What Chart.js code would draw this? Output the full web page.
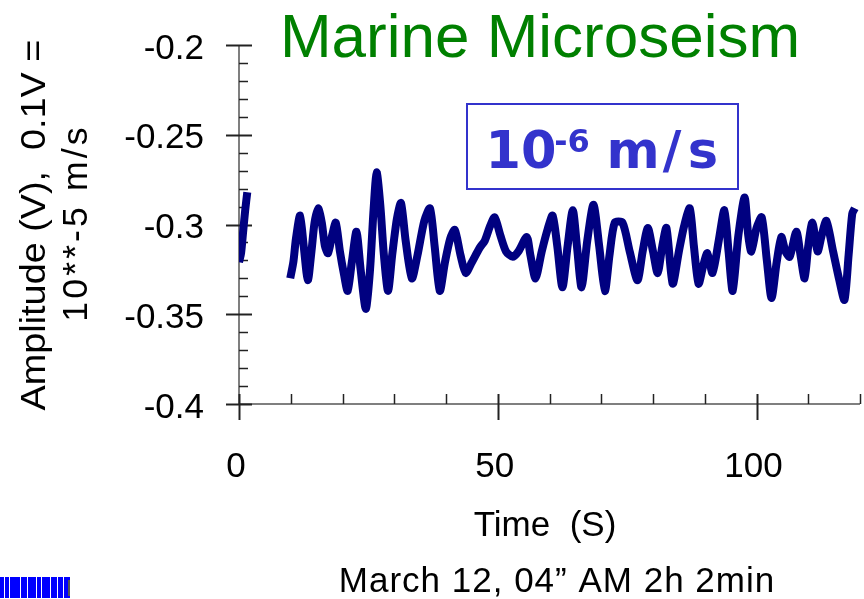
<!DOCTYPE html>
<html>
<head>
<meta charset="utf-8">
<title>Marine Microseism</title>
<script src="https://cdn.jsdelivr.net/npm/chart.js@4"></script>
<style>
html, body { margin: 0; padding: 0; background: #fff; }
#wrap { width: 864px; height: 599px; }
</style>
</head>
<body>
<div id="wrap"><canvas id="microseism-canvas" width="864" height="599"></canvas></div>
<script>
// trace: time (s) and amplitude (V); null = gap in the record
var timeSec = [0, 0.4, 0.8, 1.2, 1.6, 5,
  9.9, 10.5, 11.0, 11.8, 12.5, 13.3, 14.0, 14.6, 15.3, 16.0, 16.6, 17.2, 18.0, 18.7,
  19.5, 20.3, 21.0, 21.8, 22.7, 23.5, 24.5, 25.3, 26.0, 26.6, 27.3, 28.0, 28.8, 29.6,
  30.5, 31.3, 32.2, 33.4, 34.5, 35.8, 36.9, 37.8, 38.8, 39.8, 40.8, 41.7, 42.8, 43.8,
  45.0, 46.5, 47.5, 48.5, 49.4, 50.5, 51.6, 52.9, 54.0, 55.6, 56.3, 57.3, 58.5, 59.7,
  60.6, 61.5, 62.5, 63.5, 64.5, 65.3, 66.2, 67.3, 68.5, 69.6, 70.7, 71.6, 72.6, 74.1,
  75.5, 77.0, 78.0, 79.0, 80.0, 80.9, 81.8, 82.6, 83.8, 85.0, 86.0, 87.1, 87.9, 88.8,
  89.7, 90.5, 91.5, 92.7, 93.8, 94.6, 95.4, 96.5, 97.7, 98.4, 99.0, 100.0, 101.0, 102.0,
  102.9, 103.9, 104.8, 105.6, 106.4, 107.7, 108.5, 109.3, 110.0, 110.8, 111.8, 112.6, 113.5,
  114.8, 116.0, 117.0, 117.8, 118.5, 119.0];
var amplitudeV = [-0.321, -0.316, -0.304, -0.292, -0.282, null,
  -0.330, -0.321, -0.308, -0.295, -0.312, -0.331, -0.315, -0.299, -0.291, -0.299, -0.312, -0.316, -0.306, -0.299,
  -0.315, -0.328, -0.337, -0.321, -0.304, -0.325, -0.347, -0.326, -0.292, -0.271, -0.289, -0.317, -0.337, -0.317,
  -0.297, -0.288, -0.309, -0.330, -0.317, -0.298, -0.291, -0.312, -0.337, -0.321, -0.308, -0.303, -0.317, -0.327,
  -0.321, -0.313, -0.309, -0.301, -0.296, -0.306, -0.315, -0.318, -0.315, -0.307, -0.317, -0.330, -0.315, -0.302,
  -0.295, -0.312, -0.335, -0.312, -0.292, -0.312, -0.335, -0.309, -0.289, -0.312, -0.337, -0.317, -0.299, -0.299,
  -0.315, -0.331, -0.315, -0.302, -0.315, -0.327, -0.312, -0.302, -0.333, -0.315, -0.301, -0.291, -0.312, -0.333,
  -0.323, -0.316, -0.327, -0.309, -0.292, -0.315, -0.337, -0.306, -0.285, -0.306, -0.315, -0.302, -0.296, -0.320,
  -0.341, -0.321, -0.307, -0.315, -0.318, -0.304, -0.317, -0.330, -0.312, -0.299, -0.315, -0.306, -0.298,
  -0.315, -0.331, -0.342, -0.317, -0.294, -0.291];
var xTickLabels = { 0: '0', 50: '50', 100: '100' };
var yTickLabels = ['-0.4', '-0.35', '-0.3', '-0.25', '-0.2'];

var FONT = "'Liberation Sans', Arial, sans-serif";

var points = timeSec.map(function (t, i) { return { x: t, y: amplitudeV[i] }; });

// draws a string centred at (x, y), optionally rotated and stretched
function putText(c, txt, x, y, rot, sx, spacing) {
  c.save();
  c.translate(x, y);
  if (rot) c.rotate(rot);
  c.scale(sx || 1, 1);
  c.letterSpacing = (spacing || 0) + 'px';
  c.textAlign = 'center';
  c.fillText(txt, 0, 0);
  c.restore();
}

// axes, ticks and the loose text of the slide
var decor = {
  id: 'decor',
  beforeDatasetsDraw: function (chart) {
    var c = chart.ctx, a = chart.chartArea, xs = chart.scales.x, ys = chart.scales.y;
    c.save();
    c.strokeStyle = '#555';
    c.lineWidth = 1.5;
    c.beginPath();
    c.moveTo(a.left, a.top); c.lineTo(a.left, a.bottom);
    c.moveTo(a.left, a.bottom); c.lineTo(a.right, a.bottom);
    c.stroke();
    c.strokeStyle = '#222';
    var v, p;
    for (var k = 0; k <= 20; k++) {
      v = -0.4 + k * 0.01;
      p = Math.round(ys.getPixelForValue(v)) + 0.5;
      c.beginPath();
      if (k % 5 === 0) { c.lineWidth = 2; c.moveTo(a.left - 13, p); c.lineTo(a.left + 13, p); }
      else { c.lineWidth = 1.5; c.moveTo(a.left, p); c.lineTo(a.left + 9, p); }
      c.stroke();
    }
    for (var t = 0; t <= 120; t += 10) {
      p = Math.round(xs.getPixelForValue(t)) + 0.5;
      c.beginPath();
      if (t % 50 === 0) { c.lineWidth = 2; c.moveTo(p, a.bottom - 10); c.lineTo(p, a.bottom + 16); }
      else { c.lineWidth = 1.5; c.moveTo(p, a.bottom); c.lineTo(p, a.bottom - 10); }
      c.stroke();
    }
    c.restore();
  },
  afterDraw: function (chart) {
    var c = chart.ctx;
    c.save();
    c.textBaseline = 'alphabetic';
    // title
    c.fillStyle = '#008000';
    c.font = '62px ' + FONT;
    putText(c, 'Marine Microseism', 540, 57);

    // units box
    c.strokeStyle = '#3333cc';
    c.lineWidth = 2;
    c.strokeRect(467, 104, 271, 85);
    c.fillStyle = '#3333cc';
    c.font = "bold 51px 'DejaVu Sans', sans-serif";
    putText(c, '10', 521, 168);
    c.font = "bold 32px 'DejaVu Sans', sans-serif";
    putText(c, '-6', 572, 152);
    c.font = "bold 51px 'DejaVu Sans', sans-serif";
    putText(c, 'm', 633, 168);
    putText(c, '/', 672, 168);
    putText(c, 's', 703, 168);

    // axis titles
    c.fillStyle = '#000';
    c.font = '35px ' + FONT;
    putText(c, 'Time  (S)', 545, 536);
    putText(c, 'March 12, 04\u201d AM 2h 2min', 557, 592, 0, 1, 1);
    putText(c, 'Amplitude (V),  0.1V =', 45, 225, -Math.PI / 2, 1.08);
    putText(c, '10**-5 m/s', 87, 223, -Math.PI / 2, 1.02, 3);

    // little blue strip in the corner
    c.fillStyle = '#0000ff';
    c.fillRect(0, 577, 70, 21);
    c.fillStyle = '#fff';
    [4, 9, 20, 27, 36, 41, 50, 57, 63].forEach(function (x) { c.fillRect(x, 577, 1, 21); });
    c.fillStyle = '#555';
    c.fillRect(68, 580, 2, 16);
    c.restore();
  }
};

// no extra room for tick labels: the plot box is fixed by the layout padding
function noLabelPadding(s) {
  s.paddingLeft = 0; s.paddingRight = 0; s.paddingTop = 0; s.paddingBottom = 0;
}

var ctx = document.getElementById('microseism-canvas').getContext('2d');
var chart_microseism = new Chart(ctx, {
  type: 'line',
  data: {
    datasets: [{
      data: points,
      borderColor: '#000080',
      backgroundColor: '#000080',
      borderWidth: 8,
      borderJoinStyle: 'round',
      pointRadius: 0,
      tension: 0.25,
      spanGaps: false,
      fill: false
    }]
  },
  options: {
    responsive: false,
    animation: false,
    devicePixelRatio: 1,
    layout: { autoPadding: false, padding: { top: 45, right: 4, left: 0, bottom: 0 } },
    plugins: { legend: { display: false }, tooltip: { enabled: false }, title: { display: false } },
    scales: {
      x: {
        type: 'linear', min: 0, max: 120,
        grid: { display: false, drawTicks: false },
        border: { display: false },
        afterFit: function (s) { s.height = 195; noLabelPadding(s); },
        ticks: {
          stepSize: 10, autoSkip: false, maxRotation: 0, padding: 42, labelOffset: -3,
          color: '#000', font: { family: FONT, size: 35 },
          callback: function (v) { return xTickLabels[v] || ''; }
        }
      },
      y: {
        min: -0.4, max: -0.2,
        grid: { display: false, drawTicks: false },
        border: { display: false },
        afterFit: function (s) { s.width = 239; noLabelPadding(s); },
        ticks: {
          stepSize: 0.05, padding: 35, labelOffset: 4,
          color: '#000', font: { family: FONT, size: 35 },
          callback: function (v, i) { return yTickLabels[i]; }
        }
      }
    }
  },
  plugins: [decor]
});
</script>
</body>
</html>
